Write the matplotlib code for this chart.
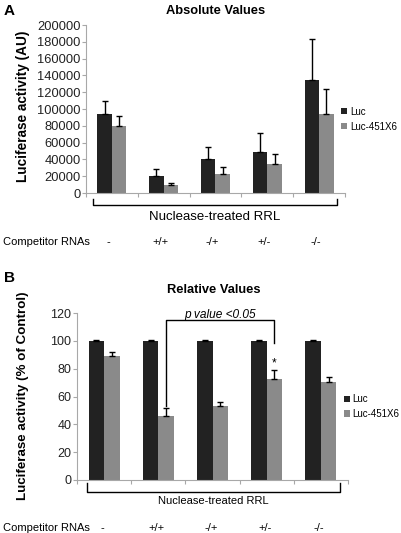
import numpy as np
import matplotlib
matplotlib.use("Agg")
import matplotlib.pyplot as plt
from matplotlib.lines import Line2D

plt.rcParams['font.family'] = ['Liberation Sans', 'DejaVu Sans']

# data
conditions = ['-', '+/+', '-/+', '+/-', '-/-']
series = ['Luc', 'Luc-451X6']

abs_luc = [94000, 20000, 41000, 49000, 135000]
abs_luc_err = [16000, 8000, 14000, 22500, 48000]
abs_451 = [80000, 9000, 22500, 34000, 94000]
abs_451_err = [12000, 3000, 8500, 13000, 30000]

rel_luc = [100, 100, 100, 100, 100]
rel_luc_err = [0.5, 0.5, 0.5, 0.5, 0.5]
rel_451 = [89, 46, 53, 72.5, 70.5]
rel_451_err = [3, 6, 3, 6.5, 3.5]

W, H = 401, 533
fig = plt.figure(figsize=(W / 100, H / 100), dpi=100)


def fx(x):
    return x / W


def fy(y):
    return 1 - y / H


def px_axes(left, top, right, bottom):
    return fig.add_axes([fx(left), fy(bottom), (right - left) / W, (bottom - top) / H])


black = '#222222'
gray = '#8a8a8a'
spine = '#a8a8a8'


def draw_panel(ax, luc, luc_err, v451, v451_err, ymax, ystep, bw, tsize):
    x = np.arange(len(conditions))
    ax.bar(x - bw / 2, luc, bw, color=black, label=series[0],
           yerr=[np.zeros(len(luc)), luc_err], capsize=2,
           error_kw=dict(ecolor='black', elinewidth=1, capthick=1))
    ax.bar(x + bw / 2, v451, bw, color=gray, label=series[1],
           yerr=[np.zeros(len(v451)), v451_err], capsize=2,
           error_kw=dict(ecolor='black', elinewidth=1, capthick=1))
    ax.set_xlim(-0.5, len(conditions) - 0.5)
    ax.set_ylim(0, ymax)
    ax.set_yticks(np.arange(0, ymax + 1, ystep))
    ax.set_xticks(np.arange(len(conditions) + 1) - 0.5)
    ax.set_xticklabels([])
    for s in ['top', 'right']:
        ax.spines[s].set_visible(False)
    for s in ['left', 'bottom']:
        ax.spines[s].set_color(spine)
    ax.tick_params(axis='both', colors=spine, length=3, labelcolor='#222222',
                   labelsize=tsize, pad=1)
    ax.legend(loc='center left', bbox_to_anchor=(0.985, 0.44), frameon=False,
              fontsize=7, handlelength=0.6, handleheight=0.6, handletextpad=0.3,
              borderpad=0, borderaxespad=0, labelspacing=0.5)


# panel A
axA = px_axes(86, 25, 345, 193)
draw_panel(axA, abs_luc, abs_luc_err, abs_451, abs_451_err, 200000, 20000, 0.28, 9.3)
fig.text(fx(4), fy(11), 'A', fontsize=11, fontweight='bold', va='center')
fig.text(fx(216), fy(11), 'Absolute Values', fontsize=9.3, fontweight='bold',
         ha='center', va='center')
fig.text(fx(23), fy(106), 'Luciferase activity (AU)', fontsize=9.8,
         fontweight='bold', rotation=90, ha='center', va='center')

# panel B
axB = px_axes(77, 313, 348, 480)
draw_panel(axB, rel_luc, rel_luc_err, rel_451, rel_451_err, 120, 20, 0.285, 9)
fig.text(fx(4), fy(278), 'B', fontsize=11, fontweight='bold', va='center')
fig.text(fx(214), fy(290), 'Relative Values', fontsize=9.3, fontweight='bold',
         ha='center', va='center')
fig.text(fx(23), fy(396), 'Luciferase activity (% of Control)', fontsize=9.6,
         fontweight='bold', rotation=90, ha='center', va='center')

# significance bracket in panel B
bw = 0.285
xl, xr = 1 + bw / 2, 3 + bw / 2
axB.plot([xl, xl, xr, xr], [rel_451[1] + rel_451_err[1] + 1.5, 115, 115, 98.5],
         color='black', lw=1, clip_on=False)
axB.text((xl + xr) / 2, 118.5, 'p value <0.05', style='italic', fontsize=8.6,
         ha='center', va='center')
axB.text(xr, rel_451[3] + rel_451_err[3] + 5, '*', fontsize=8.5, ha='center', va='center')


# brackets below each panel
def bracket(x0, x1, ytop, ybot, text_y, text_size):
    fig.add_artist(Line2D([fx(x0), fx(x0), fx(x1), fx(x1)],
                          [fy(ytop), fy(ybot), fy(ybot), fy(ytop)],
                          color='black', lw=1))
    fig.text(fx((x0 + x1) / 2), fy(text_y), 'Nuclease-treated RRL',
             fontsize=text_size, ha='center', va='center')


bracket(93, 337, 199, 205, 217, 9.5)
bracket(87, 340, 483, 492, 501, 8)


def competitor_row(ax, y, shift):
    fig.text(fx(3), fy(y), 'Competitor RNAs', fontsize=8, va='center')
    for i, c in enumerate(conditions):
        xpix = ax.transData.transform((i + shift, 0))[0]
        fig.text(xpix / W, fy(y), c, fontsize=8, ha='center', va='center')


competitor_row(axA, 242, -0.07)
competitor_row(axB, 528, -0.03)

fig.savefig('out.png', dpi=100)
